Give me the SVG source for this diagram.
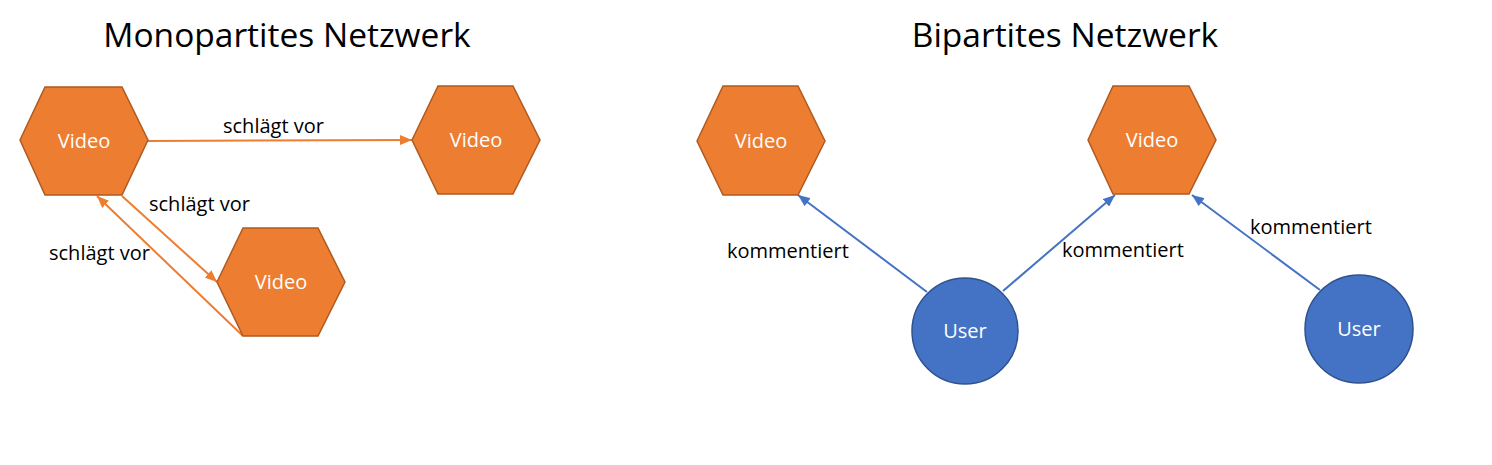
<svg xmlns="http://www.w3.org/2000/svg" width="1492" height="465" viewBox="0 0 1492 465">
<style>
.title{font-family:"Open Sans","Liberation Sans",sans-serif;font-size:33.5px;fill:#000;text-anchor:middle}
.hex{fill:#ED7D31;stroke:#AE5A21;stroke-width:1.5}
.user{fill:#4472C4;stroke:#2F528F;stroke-width:1.5}
.nl{font-family:"Open Sans","Liberation Sans",sans-serif;font-size:20px;fill:#fff;text-anchor:middle}
.el{font-family:"Open Sans","Liberation Sans",sans-serif;font-size:20px;fill:#000}
.eo{stroke:#ED7D31;stroke-width:2;fill:none}
.eb{stroke:#4472C4;stroke-width:2;fill:none}
</style>
<defs>
<marker id="ao" markerUnits="userSpaceOnUse" markerWidth="12" markerHeight="10" refX="12" refY="5" orient="auto"><path d="M0,0 L12,5 L0,10 Z" fill="#ED7D31"/></marker>
<marker id="ab" markerUnits="userSpaceOnUse" markerWidth="12" markerHeight="10" refX="12" refY="5" orient="auto"><path d="M0,0 L12,5 L0,10 Z" fill="#4472C4"/></marker>
</defs>
<rect width="1492" height="465" fill="#fff"/>
<text class="title" x="287" y="47">Monopartites Netzwerk</text>
<text class="title" x="1065" y="47">Bipartites Netzwerk</text>
<g id="connectors">
<line class="eo" x1="148" y1="141" x2="412" y2="140" marker-end="url(#ao)"/>
<line class="eo" x1="122" y1="196" x2="217" y2="282" marker-end="url(#ao)"/>
<line class="eo" x1="243" y1="336" x2="97" y2="196" marker-end="url(#ao)"/>
<line class="eb" x1="927" y1="292" x2="798" y2="195" marker-end="url(#ab)"/>
<line class="eb" x1="1003" y1="291" x2="1115" y2="195" marker-end="url(#ab)"/>
<line class="eb" x1="1320" y1="290" x2="1192" y2="195" marker-end="url(#ab)"/>
<text class="el" x="223" y="133">schlägt vor</text>
<text class="el" x="149" y="211">schlägt vor</text>
<text class="el" x="49" y="260">schlägt vor</text>
<text class="el" x="727" y="258">kommentiert</text>
<text class="el" x="1062" y="257">kommentiert</text>
<text class="el" x="1250" y="234">kommentiert</text>
</g>
<g id="video1"><polygon class="hex" points="20,140 45,87 122,87 148,140 122,195 45,195"/><text class="nl" x="84" y="148">Video</text></g>
<g id="video2"><polygon class="hex" points="412,140 438,86 513,86 540,140 513,194 438,194"/><text class="nl" x="476" y="147">Video</text></g>
<g id="video3"><polygon class="hex" points="217,282 243,228 318,228 345,282 318,336 243,336"/><text class="nl" x="281" y="289">Video</text></g>
<g id="video4"><polygon class="hex" points="697,141 723,86 798,86 825,141 798,195 723,195"/><text class="nl" x="761" y="148">Video</text></g>
<g id="video5"><polygon class="hex" points="1088,140 1113,86 1189,86 1216,140 1189,194 1113,194"/><text class="nl" x="1152" y="147">Video</text></g>
<g id="user1"><circle class="user" cx="965" cy="331" r="53"/><text class="nl" x="965" y="338">User</text></g>
<g id="user2"><circle class="user" cx="1359" cy="329" r="54"/><text class="nl" x="1359" y="336">User</text></g>
</svg>
